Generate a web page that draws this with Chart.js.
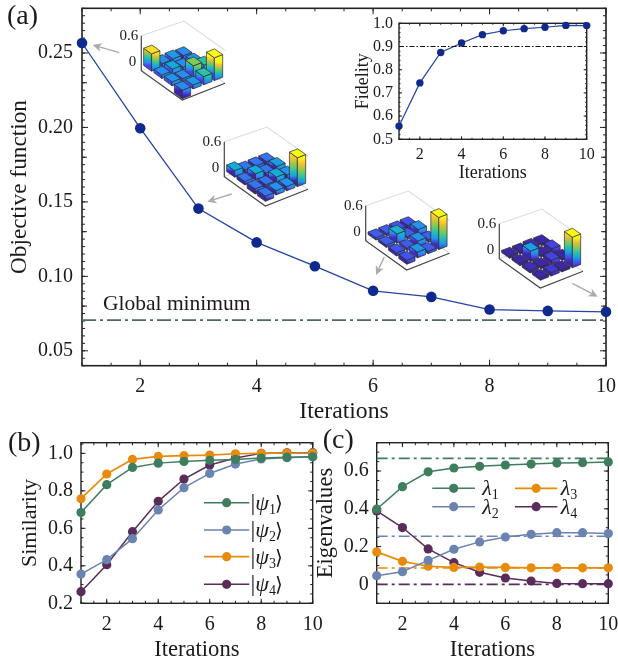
<!DOCTYPE html>
<html><head><meta charset="utf-8">
<style>
html,body{margin:0;padding:0;background:#fff;width:618px;height:665px;overflow:hidden}
canvas{position:absolute;background:transparent}
</style>
<script src="https://cdn.jsdelivr.net/npm/chart.js@4"></script>
</head><body>
<canvas id="a" width="618" height="430" style="left:0;top:0"></canvas>
<canvas id="f" width="288" height="190" style="left:330px;top:0"></canvas>
<canvas id="b" width="330" height="245" style="left:0;top:420px"></canvas>
<canvas id="c" width="308" height="245" style="left:310px;top:420px"></canvas>
<script>
// ---- data ----
const iterations = [1,2,3,4,5,6,7,8,9,10];
const objective = [0.2567,0.1995,0.1455,0.1228,0.1068,0.0903,0.0862,0.0777,0.0768,0.0762];
const globalMinimum = 0.0706;
const fidelity = [0.557,0.743,0.874,0.915,0.951,0.968,0.977,0.983,0.991,0.990];
const fidelityLine = 0.9;
const similarity1 = [0.684,0.833,0.925,0.948,0.957,0.963,0.968,0.975,0.980,0.982];
const similarity2 = [0.356,0.433,0.545,0.698,0.817,0.893,0.943,0.970,0.977,0.982];
const similarity3 = [0.758,0.890,0.968,0.984,0.988,0.991,0.998,1.000,1.002,1.002];
const similarity4 = [0.262,0.406,0.582,0.744,0.863,0.938,0.975,1.000,1.003,1.004];
const eigen1 = [0.398,0.517,0.596,0.616,0.625,0.632,0.637,0.642,0.644,0.648];
const eigen2 = [0.046,0.067,0.127,0.186,0.225,0.251,0.265,0.274,0.274,0.269];
const eigen3 = [0.172,0.122,0.096,0.090,0.092,0.090,0.088,0.088,0.088,0.088];
const eigen4 = [0.389,0.301,0.188,0.115,0.064,0.034,0.018,0.005,0.004,0.004];
const eigenTargets = [0.667,0.255,0.087,0];
const xTicks = [2,4,6,8,10];
const yTicksA = [0.05,0.10,0.15,0.20,0.25];
const yTicksF = [0.5,0.6,0.7,0.8,0.9,1.0];
const yTicksB = [0.2,0.4,0.6,0.8,1.0];
const yTicksC = [0,0.2,0.4,0.6];
const matrix1 = [[.33,.01,.02,-.13],[.01,.05,-.01,.02],[.02,-.01,.2,.12],[-.13,.02,.12,.46]];
const matrix2 = [[.08,-.01,-.05,-.05],[-.01,.08,-.02,.06],[-.05,-.02,.08,.03],[-.05,.03,.03,.6]];
const matrix3 = [[.01,.01,-.03,-.05],[.01,.17,.01,.08],[-.03,.01,.08,.01],[-.05,.09,.01,.7]];
const matrix4 = [[.0,.0,.01,.0],[.0,.19,.0,.05],[.01,.0,.05,.0],[.0,.03,.0,.66]];
const barMatrices = [matrix1,matrix2,matrix3,matrix4];
const labelsB = ['ψ1','ψ2','ψ3','ψ4'];
const labelsC = ['λ1','λ2','λ3','λ4'];

// ---- styles ----
const SERIF = '"Liberation Serif","Times New Roman",serif';
const NAVY = '#10298c', NAVYLINE = '#2343a6';
const GREEN = '#3f7d5f', BLUE = '#6a83b0', ORANGE = '#e88b0c', PURPLE = '#5a2c5a';
const AXIS = '#222';
const range = (a,b,s)=>{const o=[];for(let v=a;v<=b+1e-9;v+=s)o.push(+v.toFixed(4));return o;};
const pts = ys => ys.map((y,i)=>({x:iterations[i],y}));
const flat = y => [{x:iterations[0],y},{x:iterations[iterations.length-1],y}];

function series(label,vals,color,line,r,w){
  return {label,data:pts(vals),borderColor:line||color,backgroundColor:color,pointBackgroundColor:color,pointBorderColor:color,
    pointBorderWidth:0,pointRadius:r,borderWidth:w,tension:0,clip:false};
}
function hline(label,y,color,dash,w){
  return {label,data:flat(y),borderColor:color,borderDash:dash,borderWidth:w,pointRadius:0,tension:0,clip:false};
}

// frame with inward ticks on all four sides
const framePlugin = {id:'frame',beforeDatasetsDraw(chart,_,o){
  const {ctx,chartArea:A,scales:{x,y}}=chart;
  ctx.save();ctx.strokeStyle=AXIS;
  const mark=(vals,len,axis)=>{ctx.lineWidth=o.tickW||1;ctx.beginPath();
    vals.forEach(v=>{
      if(axis==='x'){const p=x.getPixelForValue(v);ctx.moveTo(p,A.bottom);ctx.lineTo(p,A.bottom-len);ctx.moveTo(p,A.top);ctx.lineTo(p,A.top+len);}
      else{const p=y.getPixelForValue(v);ctx.moveTo(A.left,p);ctx.lineTo(A.left+len,p);ctx.moveTo(A.right,p);ctx.lineTo(A.right-len,p);}
    });ctx.stroke();};
  mark(o.xMinor,o.minor,'x');mark(xTicks,o.major,'x');
  mark(o.yMinor,o.minor,'y');if(o.yMid)mark(o.yMid,o.major-1,'y');mark(o.yMajor,o.major,'y');
  ctx.lineWidth=o.frameW||1.5;ctx.strokeRect(A.left,A.top,A.right-A.left,A.bottom-A.top);
  ctx.restore();
}};

const notesPlugin = {id:'notes',afterDraw(chart,_,o){
  const ctx=chart.ctx;ctx.save();ctx.fillStyle='#1a1a1a';ctx.textAlign='left';ctx.textBaseline='alphabetic';
  (o.items||[]).forEach(t=>{ctx.font=t.size+'px '+SERIF;ctx.fillText(t.text,t.x,t.y);});
  ctx.restore();
}};

// legend with a line, a marker and an italic Greek symbol with a subscript
const keyPlugin = {id:'key',afterDatasetsDraw(chart,_,o){
  if(!o.rows)return;const ctx=chart.ctx;ctx.save();
  o.rows.forEach((r,i)=>{
    const ds=chart.data.datasets[i];
    ctx.strokeStyle=ds.borderColor;ctx.lineWidth=ds.borderWidth;
    ctx.beginPath();ctx.moveTo(r.x0,r.y);ctx.lineTo(r.x1,r.y);ctx.stroke();
    ctx.fillStyle=ds.backgroundColor;ctx.beginPath();ctx.arc((r.x0+r.x1)/2,r.y,ds.pointRadius,0,Math.PI*2);ctx.fill();
    ctx.fillStyle='#1a1a1a';ctx.textBaseline='alphabetic';ctx.textAlign='left';
    let tx=r.tx;const base=r.y+7;
    if(o.ket){ctx.font='24px '+SERIF;ctx.fillText('|',tx,base);tx+=ctx.measureText('|').width;}
    ctx.font='italic 22px '+SERIF;ctx.fillText(o.labels[i][0],tx,base);tx+=ctx.measureText(o.labels[i][0]).width;
    ctx.font='14px '+SERIF;ctx.fillText(o.labels[i][1],tx,base+4);tx+=ctx.measureText(o.labels[i][1]).width;
    if(o.ket){ctx.font='20px "DejaVu Sans"';ctx.fillText('⟩',tx-1,base);}
  });
  ctx.restore();
}};

// the four small 3D bar insets, drawn from the matrices
const PARULA=[[62,38,168],[70,70,238],[45,135,247],[16,170,222],[40,192,172],[100,203,110],[175,199,60],[250,190,60],[249,251,20]];
function parula(t){t=Math.max(0,Math.min(1,t))*(PARULA.length-1);const i=Math.min(PARULA.length-2,Math.floor(t)),f=t-i;
  const c=PARULA[i].map((v,k)=>Math.round(v+(PARULA[i+1][k]-v)*f));return `rgb(${c[0]},${c[1]},${c[2]})`;}
const barsPlugin={id:'bars',afterDatasetsDraw(chart,_,o){
  const ctx=chart.ctx;ctx.save();
  o.anchors.forEach((a,idx)=>{
    const M=barMatrices[idx];
    const ux=41,uy=29.3,vx=42.7,vy=-16.7,zs=43,floor=8.6;
    const P=(u,v,z)=>[a.x+u*ux+v*vx,a.y+u*uy+v*vy-floor-z*zs];
    const line=(p,col,w)=>{ctx.strokeStyle=col;ctx.lineWidth=w;ctx.beginPath();p.forEach((q,i)=>i?ctx.lineTo(q[0],q[1]):ctx.moveTo(q[0],q[1]));ctx.stroke();};
    const L=[a.x,a.y];
    const back=[a.x+vx,a.y+vy],front=[a.x+ux,a.y+uy],right=[a.x+ux+vx,a.y+uy+vy];
    line([[a.x,a.y-35],[back[0],back[1]-33],[right[0],right[1]-33]],'#dcdcdc',1.1);
    line([L,back,right],'#dcdcdc',1.1);
    line([[a.x,a.y-35],L,front,right],'#444',1.2);
    ctx.fillStyle='#222';ctx.font='15px '+SERIF;ctx.textAlign='right';ctx.textBaseline='middle';
    ctx.fillText('0.6',a.x-3,a.y-35);ctx.fillText('0',a.x-5,a.y-9);
    const all=M.flat();const lo=Math.min(0,...all),hi=a.top||Math.max(...all);
    const T=z=>Math.pow(Math.max(0,Math.min(1,(z-lo)/(hi-lo))),a.gamma);
    const order=[];for(let r=0;r<4;r++)for(let c=0;c<4;c++)order.push([r,c]);
    order.sort((p,q)=>(p[0]-p[1])-(q[0]-q[1]));
    const base=a.base;
    order.forEach(([r,c])=>{
      const val=M[r][c],zt=Math.max(0,val),zb=Math.min(0,val)-base;
      const g=0.028,u0=r/4+g,u1=(r+1)/4-g,v0=c/4+g,v1=(c+1)/4-g;
      const face=(p1,p2)=>{
        const a1=P(p1[0],p1[1],zt),a2=P(p2[0],p2[1],zt),b1=P(p1[0],p1[1],zb),b2=P(p2[0],p2[1],zb);
        const gr=ctx.createLinearGradient(0,a1[1],0,b1[1]);
        for(let k=0;k<=6;k++)gr.addColorStop(k/6,parula(T(zt+(zb-zt)*k/6)));
        ctx.fillStyle=gr;ctx.beginPath();ctx.moveTo(a1[0],a1[1]);ctx.lineTo(a2[0],a2[1]);ctx.lineTo(b2[0],b2[1]);ctx.lineTo(b1[0],b1[1]);ctx.closePath();ctx.fill();ctx.strokeStyle='#2a2a2a';ctx.lineWidth=.7;ctx.stroke();
      };
      face([u0,v0],[u1,v0]);face([u1,v0],[u1,v1]);
      const t=[P(u0,v0,zt),P(u1,v0,zt),P(u1,v1,zt),P(u0,v1,zt)];
      ctx.fillStyle=parula(T(zt));ctx.beginPath();t.forEach((q,i)=>i?ctx.lineTo(q[0],q[1]):ctx.moveTo(q[0],q[1]));ctx.closePath();ctx.fill();ctx.strokeStyle='#2a2a2a';ctx.lineWidth=.7;ctx.stroke();
    });
  });
  // grey arrows from each inset to its point
  (o.arrows||[]).forEach(([x0,y0,x1,y1])=>{
    const an=Math.atan2(y1-y0,x1-x0),h=10;
    ctx.strokeStyle='#ababab';ctx.fillStyle='#ababab';ctx.lineWidth=1.4;
    ctx.beginPath();ctx.moveTo(x0,y0);ctx.lineTo(x1-Math.cos(an)*6,y1-Math.sin(an)*6);ctx.stroke();
    ctx.beginPath();ctx.moveTo(x1,y1);
    ctx.lineTo(x1-h*Math.cos(an-.45),y1-h*Math.sin(an-.45));
    ctx.lineTo(x1-6.5*Math.cos(an),y1-6.5*Math.sin(an));
    ctx.lineTo(x1-h*Math.cos(an+.45),y1-h*Math.sin(an+.45));
    ctx.closePath();ctx.fill();
  });
  ctx.restore();
}};

function scaleOpts(o){
  return {
    type:'linear',position:o.position,min:o.min,max:o.max,
    grid:{display:false,drawTicks:false},border:{display:false},
    title:{display:true,text:o.title,color:'#1a1a1a',font:{family:SERIF,size:o.titleSize,lineHeight:1},padding:o.titlePad},
    ticks:{autoSkip:false,maxRotation:0,minRotation:0,padding:o.tickPad,color:'#1a1a1a',font:{family:SERIF,size:o.tickSize,lineHeight:1},
      callback:o.fmt},
    afterBuildTicks(s){s.ticks=o.ticks.map(v=>({value:v}));},
    afterFit(s){
      if(o.position==='bottom')s.height=o.size;else s.width=o.size;
      s.paddingLeft=s.paddingRight=s.paddingTop=s.paddingBottom=0;
    }
  };
}
function make(id,datasets,L,xo,yo,pluginOpts,extra){
  return new Chart(document.getElementById(id),{
    type:'line',data:{datasets},
    options:{responsive:false,animation:false,devicePixelRatio:1,
      layout:{padding:L},
      scales:{x:scaleOpts(xo),y:scaleOpts(yo)},
      plugins:Object.assign({legend:{display:false},tooltip:{enabled:false},title:{display:false}},pluginOpts)},
    plugins:[framePlugin,notesPlugin,keyPlugin].concat(extra||[])
  });
}
const fmtInt=v=>String(v), fmt1=v=>v===0?'0':v.toFixed(1), fmt2=v=>v.toFixed(2);

// (a)
make('a',[
  hline('Global minimum',globalMinimum,'#4d6b5f',[14,4,3,4],1.6),
  series('Objective function',objective,NAVY,NAVYLINE,5.3,1.3)
],{left:0,top:8.3,right:12,bottom:4.3},
{position:'bottom',min:1,max:10,ticks:xTicks,fmt:fmtInt,title:'Iterations',titleSize:23.7,titlePad:2,tickPad:11,tickSize:20,size:60},
{position:'left',min:0.04,max:0.28,ticks:yTicksA,fmt:fmt2,title:'Objective function',titleSize:23.3,titlePad:8.5,tickPad:9,tickSize:20,size:82},
{frame:{xMinor:range(1,10,.5),yMinor:range(.04,.28,.005),yMid:[.08,.13,.18,.23],yMajor:yTicksA,minor:3,major:6,frameW:1.6},
 notes:{items:[{text:'(a)',x:7,y:24,size:28},{text:'Global minimum',x:103,y:310,size:21.5}]},
 bars:{anchors:[{x:141.3,y:70.7,base:.07,gamma:1,top:.36},{x:224.3,y:176.7,base:.07,gamma:.6},{x:365.7,y:240.7,base:.045,gamma:.7},{x:499.3,y:258.7,base:.05,gamma:.85}],
       arrows:[[119.3,52.7,92.7,45],[231.7,194,207.3,201.7],[384.3,256.7,376,275],[572.3,283.3,597.7,296.7]]}},
[barsPlugin]);

// fidelity inset
make('f',[
  hline('Threshold',fidelityLine,'#111',[5,2,1.5,2],1),
  series('Fidelity',fidelity,NAVY,NAVYLINE,3.7,1.2)
],{left:0,top:23.3,right:31.3,bottom:4},
{position:'bottom',min:1,max:10,ticks:xTicks,fmt:fmtInt,title:'Iterations',titleSize:18,titlePad:3.7,tickPad:7,tickSize:16,size:46.7},
{position:'left',min:0.5,max:1.0,ticks:yTicksF,fmt:fmt1,title:'Fidelity',titleSize:18,titlePad:24,tickPad:6,tickSize:16,size:69},
{frame:{xMinor:range(1,10,.5),yMinor:range(.5,1,.02),yMajor:yTicksF,minor:1.5,major:3,tickW:1,frameW:1.4}});

// (b)
make('b',[
  series('psi1',similarity1,GREEN,GREEN,4.6,1.5),
  series('psi2',similarity2,BLUE,BLUE,4.6,1.5),
  series('psi3',similarity3,ORANGE,ORANGE,4.6,1.7),
  series('psi4',similarity4,PURPLE,PURPLE,4.6,1.5)
],{left:0,top:22.7,right:17.3,bottom:1.7},
{position:'bottom',min:1,max:10,ticks:xTicks,fmt:fmtInt,title:'Iterations',titleSize:22.6,titlePad:2.3,tickPad:11,tickSize:20,size:60},
{position:'left',min:0.2,max:1.057,ticks:yTicksB,fmt:fmt1,title:'Similarity',titleSize:22,titlePad:19,tickPad:8,tickSize:20,size:81},
{frame:{xMinor:range(1,10,.5),yMinor:range(.2,1.05,.05),yMajor:yTicksB,minor:2.5,major:4.5,frameW:1.4},
 notes:{items:[{text:'(b)',x:8,y:30.7,size:28}]},
 key:{ket:true,labels:labelsB,rows:[
   {x0:204,x1:249.3,y:82.7,tx:250.5},{x0:204,x1:249.3,y:110,tx:250.5},{x0:204,x1:249.3,y:136.7,tx:250.5},{x0:204,x1:249.3,y:164.3,tx:250.5}]}});

// (c)
make('c',[
  series('lambda1',eigen1,GREEN,GREEN,4.6,1.5),
  series('lambda2',eigen2,BLUE,BLUE,4.6,1.5),
  series('lambda3',eigen3,ORANGE,ORANGE,4.6,1.7),
  series('lambda4',eigen4,PURPLE,PURPLE,4.6,1.5),
  hline('target1',eigenTargets[0],GREEN,[11,4,3,4],1.6),
  hline('target2',eigenTargets[1],BLUE,[11,4,3,4],1.6),
  hline('target3',eigenTargets[2],ORANGE,[11,4,3,4],1.6),
  hline('target4',eigenTargets[3],PURPLE,[11,4,3,4],1.6)
],{left:0,top:22.7,right:9.7,bottom:1.7},
{position:'bottom',min:1,max:10,ticks:xTicks,fmt:fmtInt,title:'Iterations',titleSize:22.6,titlePad:2.3,tickPad:11,tickSize:20,size:60},
{position:'left',min:-0.1,max:0.75,ticks:yTicksC,fmt:fmt1,title:'Eigenvalues',titleSize:22.6,titlePad:5,tickPad:8,tickSize:20,size:66.7},
{frame:{xMinor:range(1,10,.5),yMinor:range(-.1,.75,.05),yMajor:yTicksC,minor:2.5,major:4.5,frameW:1.4},
 notes:{items:[{text:'(c)',x:12.7,y:28.3,size:28}]},
 key:{labels:labelsC,rows:[
   {x0:122.3,x1:165,y:68.3,tx:172.3},{x0:122.3,x1:165,y:86.7,tx:172.3},{x0:205,x1:247.3,y:68.3,tx:250.7},{x0:205,x1:247.3,y:86.7,tx:250.7}]}});
</script>
</body></html>
